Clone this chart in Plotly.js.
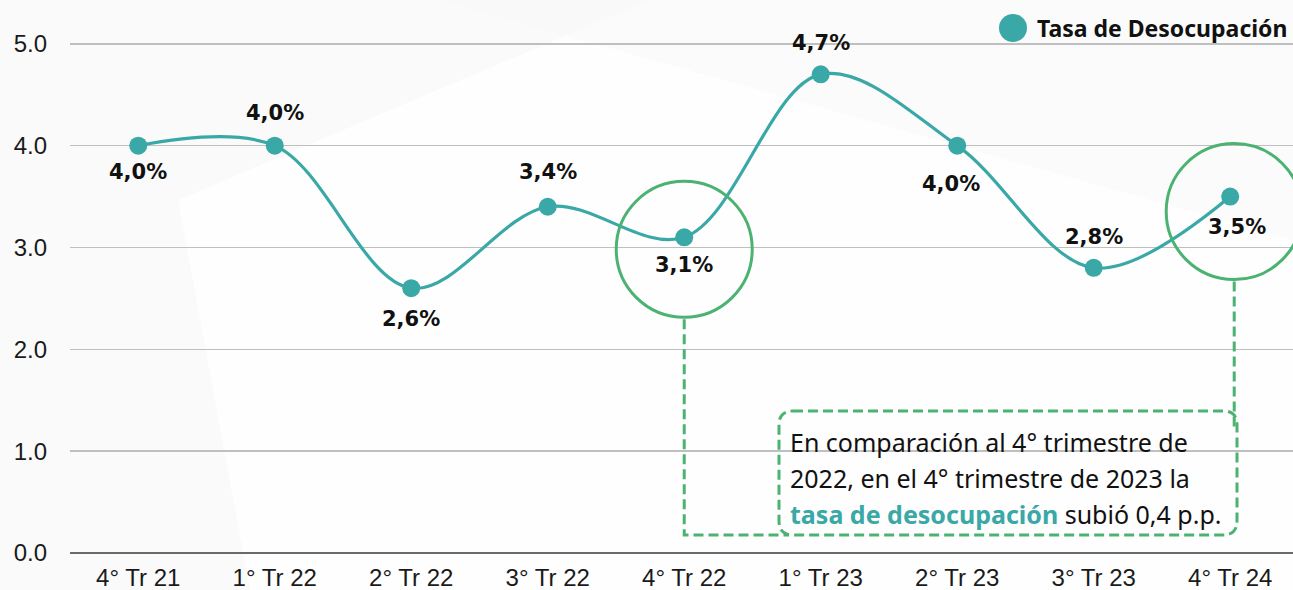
<!DOCTYPE html>
<html>
<head>
<meta charset="utf-8">
<script src="https://cdn.plot.ly/plotly-3.0.1.min.js"></script>
<style>html,body{margin:0;padding:0;background:#fafafa;}#chart{width:1293px;height:590px;}</style>
</head>
<body>
<div id="chart"></div>
<script>
const categories = ["4° Tr 21","1° Tr 22","2° Tr 22","3° Tr 22","4° Tr 22","1° Tr 23","2° Tr 23","3° Tr 23","4° Tr 24"];
const tasaDesocupacion = [4.0, 4.0, 2.6, 3.4, 3.1, 4.7, 4.0, 2.8, 3.5];
const valueLabels = ["4,0%","4,0%","2,6%","3,4%","3,1%","4,7%","4,0%","2,8%","3,5%"];
const yTickValues = [0, 1, 2, 3, 4, 5];
const yTickLabels = ["0.0","1.0","2.0","3.0","4.0","5.0"];
const seriesName = "Tasa de Desocupación";
const highlighted = [4, 8];

const W = 1293, H = 590;
const M = {l: 70, r: 0, t: 0, b: 37};
const plotW = W - M.l - M.r, plotH = H - M.t - M.b;
const xRange = [-0.5, 8.46], yRange = [0, 5.43];
const teal = "#3aa8a6", green = "#4cb272";

const xPaper = i => (i - xRange[0]) / (xRange[1] - xRange[0]);
const yPaper = v => (v - yRange[0]) / (yRange[1] - yRange[0]);
const pxX = px => (px - M.l) / plotW;
const pxY = py => (H - M.b - py) / plotH;
const xToPx = i => M.l + xPaper(i) * plotW;
const yToPx = v => H - M.b - yPaper(v) * plotH;

// label pixel offsets (style): [dx, dy] with dy positive = up
const labelShift = [[0,-26],[0,33],[0,-31],[0,35],[0,-28],[0,31],[-6,-38],[0,31],[7,-30]];

const trace = {
  x: categories, y: tasaDesocupacion, type: "scatter", mode: "lines+markers",
  name: seriesName, showlegend: false,
  line: {color: teal, width: 3.2, shape: "spline", smoothing: 1},
  marker: {color: teal, size: 18},
  cliponaxis: false, hoverinfo: "skip"
};

const shapes = [];
shapes.push({type: "path", xref: "paper", yref: "paper", layer: "below",
  path: `M ${pxX(178)} ${pxY(200)} L ${pxX(650)} ${pxY(0)} L ${pxX(1293)} ${pxY(0)} L ${pxX(1293)} ${pxY(590)} L ${pxX(250)} ${pxY(590)} Z`,
  fillcolor: "rgba(255,255,255,0.8)", line: {width: 0}});
shapes.push({type: "path", xref: "paper", yref: "paper", layer: "below",
  path: `M ${pxX(440)} ${pxY(0)} L ${pxX(1293)} ${pxY(240)} L ${pxX(1293)} ${pxY(0)} Z`,
  fillcolor: "rgba(248,248,248,0.6)", line: {width: 0}});

const circleOffset = [[0, 12], [4, 15]];
highlighted.forEach((idx, k) => {
  const [dx, dy] = circleOffset[k];
  shapes.push({type: "circle", xref: "x", yref: "y", xsizemode: "pixel", ysizemode: "pixel",
    xanchor: idx, yanchor: tasaDesocupacion[idx],
    x0: dx - 68, x1: dx + 68, y0: -dy - 68, y1: -dy + 68,
    line: {color: green, width: 3}, fillcolor: "rgba(0,0,0,0)"});
});

const boxL = 779, boxR = 1237, boxT = 411, boxB = 535, rr = 14;
const c1x = xToPx(highlighted[0]) + circleOffset[0][0], c1bottom = yToPx(tasaDesocupacion[highlighted[0]]) + circleOffset[0][1] + 68;
const c2x = xToPx(highlighted[1]) + circleOffset[1][0], c2bottom = yToPx(tasaDesocupacion[highlighted[1]]) + circleOffset[1][1] + 68;
const dash = {color: green, width: 3, dash: "10px,5px"};
shapes.push({type: "path", xref: "paper", yref: "paper",
  path: `M ${pxX(c1x)} ${pxY(c1bottom + 2)} L ${pxX(c1x)} ${pxY(boxB)} L ${pxX(boxL + 10)} ${pxY(boxB)}`,
  line: dash});
shapes.push({type: "path", xref: "paper", yref: "paper",
  path: `M ${pxX(c2x)} ${pxY(c2bottom + 2)} L ${pxX(c2x)} ${pxY(boxT + 20)}`,
  line: dash});
shapes.push({type: "path", xref: "paper", yref: "paper",
  path: `M ${pxX(boxL + rr)} ${pxY(boxT)} L ${pxX(boxR - rr)} ${pxY(boxT)} Q ${pxX(boxR)} ${pxY(boxT)} ${pxX(boxR)} ${pxY(boxT + rr)} ` +
        `L ${pxX(boxR)} ${pxY(boxB - rr)} Q ${pxX(boxR)} ${pxY(boxB)} ${pxX(boxR - rr)} ${pxY(boxB)} ` +
        `L ${pxX(boxL + rr)} ${pxY(boxB)} Q ${pxX(boxL)} ${pxY(boxB)} ${pxX(boxL)} ${pxY(boxB - rr)} ` +
        `L ${pxX(boxL)} ${pxY(boxT + rr)} Q ${pxX(boxL)} ${pxY(boxT)} ${pxX(boxL + rr)} ${pxY(boxT)} Z`,
  line: dash, fillcolor: "rgba(0,0,0,0)"});

shapes.push({type: "circle", xref: "paper", yref: "paper", xsizemode: "pixel", ysizemode: "pixel",
  xanchor: pxX(1013), yanchor: pxY(28), x0: -14, x1: 14, y0: -14, y1: 14,
  fillcolor: teal, line: {width: 0}});

const annotations = [];
valueLabels.forEach((t, i) => {
  annotations.push({xref: "x", yref: "y", x: i, y: tasaDesocupacion[i], text: "<b>" + t + "</b>",
    showarrow: false, xanchor: "center", yanchor: "middle",
    xshift: labelShift[i][0], yshift: labelShift[i][1],
    font: {family: "DejaVu Sans", size: 21, color: "#111"}});
});

const noteLines = [
  "En comparación al 4° trimestre de",
  "2022, en el 4° trimestre de 2023 la",
  "<b><span style='color:" + teal + "'>tasa de desocupación</span></b> subió 0,4 p.p."
];
const noteY = [442, 478, 514];
noteLines.forEach((t, i) => annotations.push({
  xref: "paper", yref: "paper", x: pxX(788), y: pxY(noteY[i]), xanchor: "left", yanchor: "middle",
  text: t, showarrow: false, align: "left",
  font: {family: "Noto Sans", size: 25, color: "#111"}
}));
annotations.push({xref: "paper", yref: "paper", x: pxX(1035), y: pxY(28), xanchor: "left", yanchor: "middle",
  text: "<b>" + seriesName + "</b>", showarrow: false,
  font: {family: "Noto Sans", size: 23, color: "#111"}});

const layout = {
  width: W, height: H, margin: M,
  paper_bgcolor: "#fafafa", plot_bgcolor: "rgba(0,0,0,0)",
  showlegend: false,
  xaxis: {type: "category", range: xRange, showgrid: false, zeroline: false, showline: false,
    ticks: "", ticklabelstandoff: 8, tickfont: {family: "Liberation Sans", size: 24, color: "#1a1a1a"}, fixedrange: true},
  yaxis: {range: yRange, tickvals: yTickValues, ticktext: yTickLabels, showgrid: true,
    gridcolor: "#bfbfbf", gridwidth: 1.5, zeroline: true, zerolinecolor: "#6a6a6a", zerolinewidth: 2,
    showline: false, ticks: "", ticklabelstandoff: 22,
    tickfont: {family: "Liberation Sans", size: 24, color: "#1a1a1a"}, fixedrange: true},
  shapes: shapes, annotations: annotations,
  font: {family: "Liberation Sans"}
};

Plotly.newPlot("chart", [trace], layout, {displayModeBar: false, staticPlot: true});
</script>
</body>
</html>
